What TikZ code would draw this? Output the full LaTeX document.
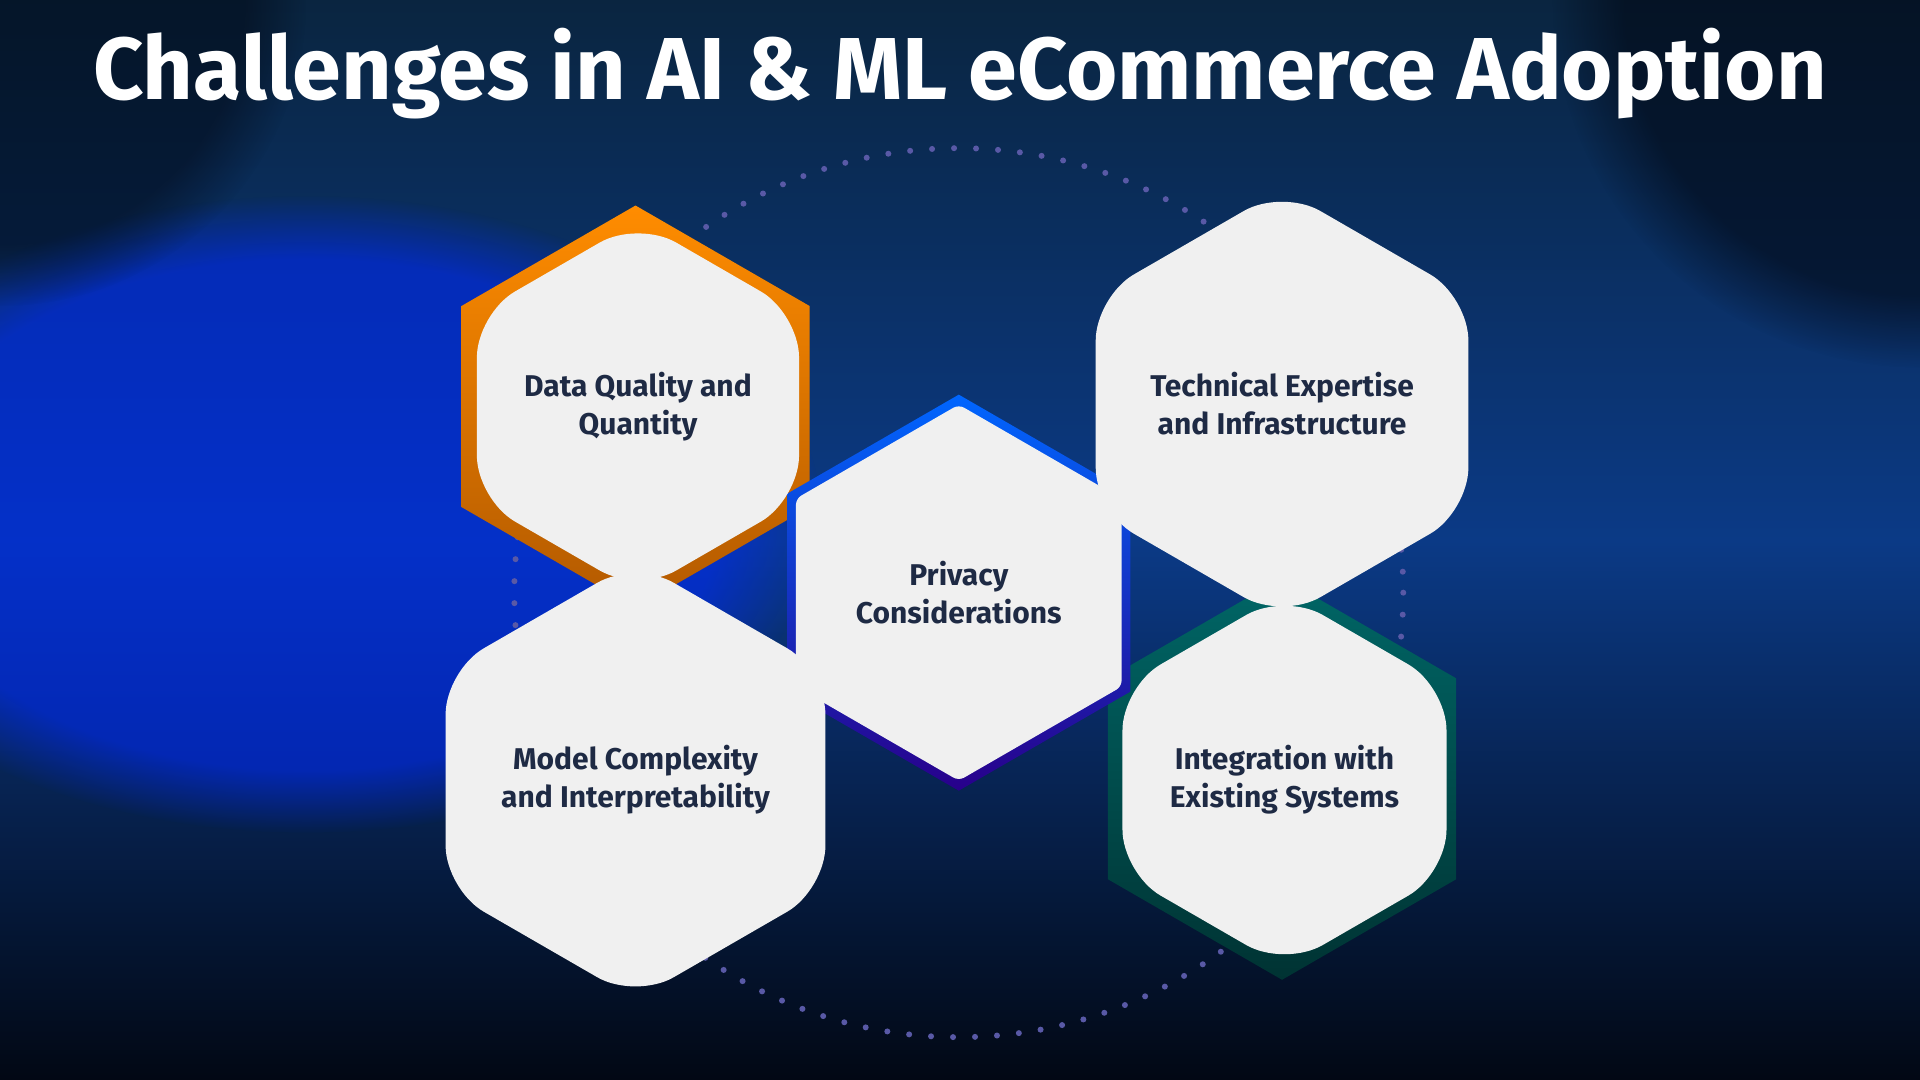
\documentclass[tikz,border=0pt]{standalone}
\usepackage{fontspec}
\setmainfont{Fira Sans}
\usetikzlibrary{shapes.geometric,fadings}
\definecolor{bgtop}{HTML}{0A2540}
\definecolor{bgmid}{HTML}{0B3A86}
\definecolor{bgbot}{HTML}{020814}
\definecolor{txt}{HTML}{1E2A44}
\definecolor{hexw}{HTML}{F0F0F0}
\tikzset{
  outerhex/.style={regular polygon, regular polygon sides=6, shape border rotate=30, minimum size=201pt, inner sep=0pt},
  innerhex/.style={regular polygon, regular polygon sides=6, shape border rotate=30, minimum size=186pt, inner sep=0pt, fill=hexw, rounded corners=22pt,
     font=\fontsize{15}{19}\selectfont\bfseries, text=txt, align=center},
}
\begin{document}
\begin{tikzpicture}[x=0.6122pt,y=-0.6122pt]
\useasboundingbox (0,0) rectangle (1568,882);
\shade[top color=bgtop, bottom color=bgbot, middle color=bgmid] (0,0) rectangle (1568,882);
\fill[blue!60!cyan!40!blue, opacity=0.55, path fading=circle with fuzzy edge 20 percent] (250,420) ellipse (420 and 260);
\fill[bgbot, opacity=0.6, path fading=circle with fuzzy edge 20 percent] (1568,0) circle (300);
\fill[bgbot, opacity=0.5, path fading=circle with fuzzy edge 20 percent] (0,0) circle (250);
\node[text=white, font=\fontsize{44}{50}\selectfont\bfseries] (title) at (784,60) {Challenges in AI \& ML eCommerce Adoption};
\coordinate (c) at (783,484);
\draw[color=gray!70!blue, line width=3pt, line cap=round, dash pattern=on 0pt off 11pt] (c) circle (363);
\node[outerhex, top color=orange!90!yellow, bottom color=orange!70!black] (dq) at (519,332) {};
\node[outerhex, top color=green!50!black!80!white, bottom color=green!30!black] (te) at (1047,330) {};
\node[outerhex, top color=cyan!50!teal!70!white, bottom color=teal!70!black] (mc) at (519,636) {};
\node[outerhex, top color=teal!80!black, bottom color=teal!40!black] (ie) at (1047,636) {};
\node[outerhex, minimum size=198pt, top color=blue!60!cyan, bottom color=blue!70!purple!70!black] (pc) at (783,484) {};
\node[innerhex] (dqi) at (521,332) {Data Quality and\\Quantity};
\node[innerhex] (tei) at (1047,330) {Technical Expertise\\and Infrastructure};
\node[innerhex] (mci) at (519,637) {Model Complexity\\and Interpretability};
\node[innerhex] (iei) at (1049,637) {Integration with\\Existing Systems};
\node[innerhex, rounded corners=3pt, minimum size=188pt] (pci) at (783,484) {Privacy\\Considerations};
\end{tikzpicture}
\end{document}
